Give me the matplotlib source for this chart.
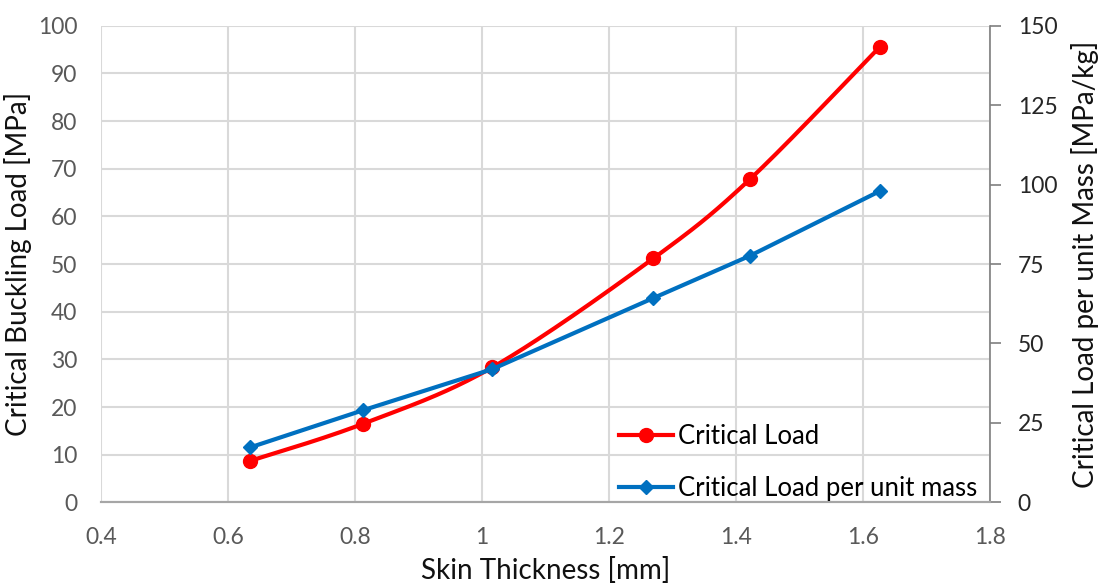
import numpy as np
import matplotlib
matplotlib.use("Agg")
import matplotlib.pyplot as plt
from matplotlib.lines import Line2D

# Skin thickness samples (sheet gauges) and results
thickness_mm = [0.635, 0.813, 1.016, 1.27, 1.422, 1.626]
critical_load_mpa = [8.7, 16.5, 28.3, 51.2, 67.8, 95.5]
load_per_mass = [17.3, 29.0, 41.9, 64.3, 77.6, 97.9]

x_ticks = [0.4, 0.6, 0.8, 1.0, 1.2, 1.4, 1.6, 1.8]
x_tick_labels = ["0.4", "0.6", "0.8", "1", "1.2", "1.4", "1.6", "1.8"]
left_ticks = list(range(0, 101, 10))
right_ticks = [0, 25, 50, 75, 100, 125, 150]

RED = "#FF0000"
BLUE = "#0070C0"
GRID = "#D9D9D9"
TICK_TXT = "#595959"
SPINE = "#A6A6A6"

plt.rcParams["font.family"] = ["Lato", "DejaVu Sans"]


def smooth_curve(xs, ys, n=40):
    """Piecewise cubic Bezier through the points (spreadsheet-style smoothing)."""
    xs = np.asarray(xs, float)
    ys = np.asarray(ys, float)
    px = np.concatenate([[xs[0]], xs, [xs[-1]]])
    py = np.concatenate([[ys[0]], ys, [ys[-1]]])
    out_x, out_y = [], []
    t = np.linspace(0, 1, n)
    for i in range(1, len(px) - 2):
        p0 = np.array([px[i], py[i]])
        p3 = np.array([px[i + 1], py[i + 1]])
        c1 = p0 + (np.array([px[i + 1], py[i + 1]]) - np.array([px[i - 1], py[i - 1]])) / 6
        c2 = p3 - (np.array([px[i + 2], py[i + 2]]) - p0) / 6
        b = ((1 - t) ** 3)[:, None] * p0 + (3 * (1 - t) ** 2 * t)[:, None] * c1 \
            + (3 * (1 - t) * t ** 2)[:, None] * c2 + (t ** 3)[:, None] * p3
        out_x.extend(b[:, 0])
        out_y.extend(b[:, 1])
    return np.array(out_x), np.array(out_y)


fig = plt.figure(figsize=(11.08, 5.86), dpi=100)
ax = fig.add_axes([0.0912, 0.1428, 0.8023, 0.8133])
ax2 = ax.twinx()

ax.set_xlim(0.4, 1.8)
ax.set_ylim(0, 100)
ax2.set_ylim(0, 150)

ax.set_xticks(x_ticks)
ax.set_xticklabels(x_tick_labels)
ax.set_yticks(left_ticks)
ax2.set_yticks(right_ticks)

ax.grid(True, color=GRID, linewidth=1.5)
ax.set_axisbelow(True)

for a in (ax, ax2):
    for side in ("top", "left", "right"):
        a.spines[side].set_visible(False)
    a.spines["bottom"].set_color(SPINE)
    a.spines["bottom"].set_linewidth(1.5)
ax2.spines["right"].set_visible(True)
ax2.spines["right"].set_color("#7F7F7F")
ax2.spines["right"].set_linewidth(1.2)

ax.tick_params(axis="y", length=0, labelsize=16.5, labelcolor=TICK_TXT, pad=17)
ax.tick_params(axis="x", length=0, labelsize=16.5, labelcolor=TICK_TXT, pad=18)
ax2.tick_params(axis="y", length=8, width=1.2, color="#7F7F7F", labelsize=16.5,
                labelcolor="#262626", pad=12)

# Critical load (smoothed) on the left axis
sx, sy = smooth_curve(thickness_mm, critical_load_mpa)
ax.plot(sx, sy, color=RED, linewidth=3, solid_capstyle="round", zorder=3)
ax.plot(thickness_mm, critical_load_mpa, linestyle="none", marker="o",
        markersize=10, color=RED, zorder=4)

# Critical load per unit mass on the right axis
ax2.plot(thickness_mm, load_per_mass, color=BLUE, linewidth=3, marker="D",
         markersize=7.5, zorder=3)

ax.set_xlabel("Skin Thickness [mm]", fontsize=20, color="#111111", labelpad=6)
ax.set_ylabel("Critical Buckling Load [MPa]", fontsize=20, color="#111111", labelpad=4)
ax2.set_ylabel("Critical Load per unit Mass [MPa/kg]", fontsize=20, color="#111111",
               labelpad=10)

handles = [
    Line2D([], [], color=RED, linewidth=3, marker="o", markersize=10),
    Line2D([], [], color=BLUE, linewidth=3, marker="D", markersize=7.5),
]
ax2.legend(handles, ["Critical Load", "Critical Load per unit mass"],
           loc="lower right", bbox_to_anchor=(0.997, -0.018), frameon=False,
           fontsize=18.5, handlelength=2.1, handletextpad=0.2, labelspacing=1.02,
           borderaxespad=0.0)

fig.savefig("out.png", dpi=100, facecolor="white")
